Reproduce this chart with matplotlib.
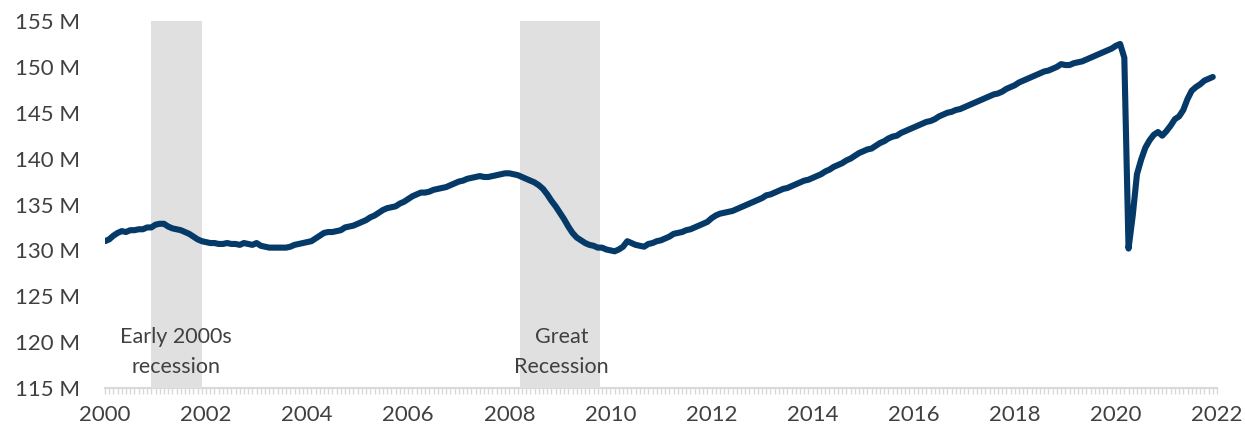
import numpy as np
import matplotlib
matplotlib.use("Agg")
from matplotlib import pyplot as plt
from matplotlib.ticker import MultipleLocator, FuncFormatter

START_YEAR = 2000

# total nonfarm payrolls, millions, monthly Jan 2000 .. Dec 2021
payrolls = [
    131.0, 131.2, 131.6, 131.9, 132.1, 132.0, 132.2, 132.2, 132.3, 132.3, 132.5, 132.5,  # 2000
    132.8, 132.9, 132.9, 132.6, 132.4, 132.3, 132.2, 132.0, 131.8, 131.5, 131.2, 131.0,  # 2001
    130.9, 130.8, 130.8, 130.7, 130.7, 130.8, 130.7, 130.7, 130.6, 130.8, 130.7, 130.6,  # 2002
    130.8, 130.5, 130.4, 130.3, 130.3, 130.3, 130.3, 130.3, 130.4, 130.6, 130.7, 130.8,  # 2003
    130.9, 131.0, 131.3, 131.6, 131.9, 132.0, 132.0, 132.1, 132.2, 132.5, 132.6, 132.7,  # 2004
    132.9, 133.1, 133.3, 133.6, 133.8, 134.1, 134.4, 134.6, 134.7, 134.8, 135.1, 135.3,  # 2005
    135.6, 135.9, 136.1, 136.3, 136.3, 136.4, 136.6, 136.7, 136.8, 136.9, 137.1, 137.3,  # 2006
    137.5, 137.6, 137.8, 137.9, 138.0, 138.1, 138.0, 138.0, 138.1, 138.2, 138.3, 138.4,  # 2007
    138.4, 138.3, 138.2, 138.0, 137.8, 137.6, 137.4, 137.1, 136.7, 136.1, 135.4, 134.8,  # 2008
    134.1, 133.4, 132.6, 131.9, 131.4, 131.1, 130.8, 130.6, 130.5, 130.3, 130.3, 130.1,  # 2009
    130.0, 129.9, 130.1, 130.4, 131.0, 130.8, 130.6, 130.5, 130.4, 130.7, 130.8, 131.0,  # 2010
    131.1, 131.3, 131.5, 131.8, 131.9, 132.0, 132.2, 132.3, 132.5, 132.7, 132.9, 133.1,  # 2011
    133.5, 133.8, 134.0, 134.1, 134.2, 134.3, 134.5, 134.7, 134.9, 135.1, 135.3, 135.5,  # 2012
    135.7, 136.0, 136.1, 136.3, 136.5, 136.7, 136.8, 137.0, 137.2, 137.4, 137.6, 137.7,  # 2013
    137.9, 138.1, 138.3, 138.6, 138.8, 139.1, 139.3, 139.5, 139.8, 140.0, 140.3, 140.6,  # 2014
    140.8, 141.0, 141.1, 141.4, 141.7, 141.9, 142.2, 142.4, 142.5, 142.8, 143.0, 143.2,  # 2015
    143.4, 143.6, 143.8, 144.0, 144.1, 144.3, 144.6, 144.8, 145.0, 145.1, 145.3, 145.4,  # 2016
    145.6, 145.8, 146.0, 146.2, 146.4, 146.6, 146.8, 147.0, 147.1, 147.3, 147.6, 147.8,  # 2017
    148.0, 148.3, 148.5, 148.7, 148.9, 149.1, 149.3, 149.5, 149.6, 149.8, 150.0, 150.3,  # 2018
    150.2, 150.2, 150.4, 150.5, 150.6, 150.8, 151.0, 151.2, 151.4, 151.6, 151.8, 152.0,  # 2019
    152.3, 152.5, 151.0, 130.2, 133.8, 138.3, 139.9, 141.2, 142.0, 142.6, 142.9, 142.5,  # 2020
    143.0, 143.6, 144.3, 144.6, 145.3, 146.5, 147.4, 147.8, 148.1, 148.5, 148.7, 148.9,  # 2021
]

recession_starts = [2000.92, 2008.21]
recession_ends = [2001.92, 2009.80]
recession_labels = ["Early 2000s\nrecession", "Great\nRecession"]
label_x = [2001.40, 2009.03]

x = START_YEAR + np.arange(len(payrolls)) / 12

plt.rcParams['font.family'] = ['Lato', 'DejaVu Sans']
text_color = '#404040'

fig = plt.figure(figsize=(12.45, 4.26), dpi=100)
ax = fig.add_axes([0.0843, 0.0892, 0.8932, 0.8615])

for s, e in zip(recession_starts, recession_ends):
    ax.axvspan(s, e, color='#e0e0e0', lw=0, zorder=1)
for lx, lab in zip(label_x, recession_labels):
    ax.text(lx, 118.9, lab, ha='center', va='center', fontsize=15.5,
            color=text_color, linespacing=1.6, zorder=2)

ax.plot(x, payrolls, color='#053a68', lw=4.4, solid_capstyle='round',
        solid_joinstyle='round', zorder=3)

ax.set_xlim(2000, 2022)
ax.set_ylim(115, 155)
ax.yaxis.set_major_locator(MultipleLocator(5))
ax.yaxis.set_major_formatter(FuncFormatter(lambda v, p: f"{v:.0f} M"))
ax.xaxis.set_major_locator(MultipleLocator(2))
ax.xaxis.set_minor_locator(MultipleLocator(1 / 12))
ax.xaxis.set_major_formatter(FuncFormatter(lambda v, p: f"{v:.0f}"))

for side in ['top', 'right', 'left']:
    ax.spines[side].set_visible(False)
ax.spines['bottom'].set_color('#d9d9d9')
ax.spines['bottom'].set_linewidth(1.5)
ax.spines['bottom'].set_zorder(0)

ax.tick_params(axis='y', length=0, pad=18, labelsize=16, labelcolor=text_color)
ax.tick_params(axis='x', which='both', length=4, width=1, color='#d9d9d9',
               labelsize=16, labelcolor=text_color, pad=8)

fig.savefig('out.png', dpi=100)
